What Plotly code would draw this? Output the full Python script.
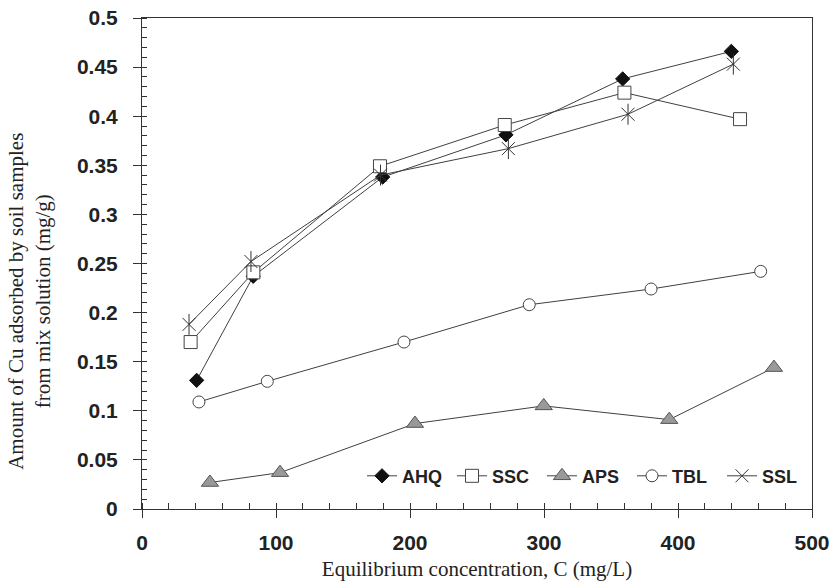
import plotly.graph_objects as go

# ---- data ----
ahq_x = [40.8, 83.0, 179.6, 271.6, 358.7, 439.8]
ahq_y = [0.131, 0.237, 0.338, 0.381, 0.438, 0.466]
ssc_x = [36.3, 83.1, 177.6, 270.7, 360.0, 446.3]
ssc_y = [0.170, 0.241, 0.349, 0.391, 0.424, 0.397]
aps_x = [50.7, 103.0, 203.7, 299.8, 393.5, 471.6]
aps_y = [0.027, 0.037, 0.087, 0.105, 0.091, 0.144]
tbl_x = [42.5, 93.5, 195.5, 289.0, 379.9, 461.7]
tbl_y = [0.109, 0.130, 0.170, 0.208, 0.224, 0.242]
ssl_x = [35.1, 81.3, 178.0, 273.4, 362.7, 441.3]
ssl_y = [0.188, 0.252, 0.340, 0.367, 0.402, 0.453]

x_ticks = [0, 100, 200, 300, 400, 500]
y_ticks = [0, 0.05, 0.1, 0.15, 0.2, 0.25, 0.3, 0.35, 0.4, 0.45, 0.5]
y_tick_text = ["0", "0.05", "0.1", "0.15", "0.2", "0.25", "0.3", "0.35", "0.4", "0.45", "0.5"]

x_title = "Equilibrium concentration, C (mg/L)"
y_title = "Amount of Cu adsorbed by soil samples<br>from mix solution (mg/g)"

LINE = "#404040"
SERIF = "Liberation Serif, Times New Roman"
SANS = "Liberation Sans, Arial"

fig = go.Figure()

fig.add_trace(go.Scatter(
    x=ahq_x, y=ahq_y, name="AHQ", mode="lines+markers",
    line=dict(color=LINE, width=1),
    marker=dict(symbol="diamond", size=11, color="#111111",
                line=dict(color="#111111", width=1)),
))
fig.add_trace(go.Scatter(
    x=ssc_x, y=ssc_y, name="SSC", mode="lines+markers",
    line=dict(color=LINE, width=1),
    marker=dict(symbol="square", size=13, color="white",
                line=dict(color="#444444", width=1)),
))
fig.add_trace(go.Scatter(
    x=aps_x, y=aps_y, name="APS", mode="lines+markers",
    line=dict(color=LINE, width=1),
    marker=dict(symbol="triangle-up", size=15, color="#999999",
                line=dict(color="#555555", width=1)),
))
fig.add_trace(go.Scatter(
    x=tbl_x, y=tbl_y, name="TBL", mode="lines+markers",
    line=dict(color=LINE, width=1),
    marker=dict(symbol="circle", size=12, color="white",
                line=dict(color="#444444", width=1)),
))
fig.add_trace(go.Scatter(
    x=ssl_x, y=ssl_y, name="SSL", mode="lines+markers",
    line=dict(color=LINE, width=1),
    marker=dict(symbol="x-thin-open", size=13, color="#333333",
                line=dict(color="#333333", width=1)),
))
# vertical stroke of the asterisk marker
fig.add_trace(go.Scatter(
    x=ssl_x, y=ssl_y, mode="markers", showlegend=False, hoverinfo="skip",
    marker=dict(symbol="line-ns-open", size=15, color="#333333",
                line=dict(color="#333333", width=1)),
))

W, H = 834, 588
L, R, T, B = 142, 22, 18, 79

fig.update_layout(
    width=W, height=H,
    margin=dict(l=L, r=R, t=T, b=B, pad=0, autoexpand=False),
    paper_bgcolor="white", plot_bgcolor="white",
    font=dict(family=SANS, color="#222222"),
    showlegend=True,
    legend=dict(
        orientation="h", x=1.0, xanchor="right", y=0.067, yanchor="middle",
        bgcolor="rgba(0,0,0,0)", borderwidth=0,
        font=dict(family=SANS, size=18, color="#222222", weight="bold"),
        itemwidth=30, entrywidth=45, entrywidthmode="pixels",
    ),
    annotations=[dict(
        text=y_title, textangle=-90, xref="paper", yref="paper",
        x=-(L - 30) / (W - L - R), xanchor="center", y=0.422, yanchor="middle",
        showarrow=False,
        font=dict(family=SERIF, size=21, color="#222222"),
    )],
)

fig.update_xaxes(
    range=[0, 500], tickvals=x_ticks, ticktext=[str(v) for v in x_ticks],
    showgrid=False, zeroline=False, automargin=False,
    showline=True, linecolor="#333333", linewidth=1, mirror=True,
    ticks="outside", ticklen=8, tickcolor="#333333", ticklabelstandoff=7,
    tickfont=dict(family=SANS, size=21, color="#222222", weight="bold"),
    minor=dict(ticks="inside", dtick=20, ticklen=6, tickcolor="#333333"),
    title=dict(text=x_title, standoff=8,
               font=dict(family=SERIF, size=21, color="#222222")),
)
fig.update_yaxes(
    range=[0, 0.5], tickvals=y_ticks, ticktext=y_tick_text,
    showgrid=False, zeroline=False, automargin=False,
    showline=True, linecolor="#333333", linewidth=1, mirror=True,
    ticks="outside", ticklen=8, tickcolor="#333333", ticklabelstandoff=11,
    tickfont=dict(family=SANS, size=21, color="#222222", weight="bold"),
    minor=dict(ticks="inside", dtick=0.01, ticklen=5, tickcolor="#333333"),
)

fig.write_html("out.html")
